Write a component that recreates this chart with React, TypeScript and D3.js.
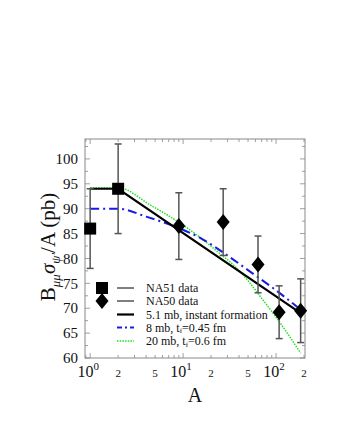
import React from "react";
import * as d3 from "d3";

const na51A = [1, 2];
const na51Val = [86, 94];
const na51Err = [8, 9];

const na50A = [9, 27, 64, 108, 184];
const na50Val = [86.5, 87.3, 78.8, 69.2, 69.5];
const na50Err = [6.7, 6.7, 5.7, 5.3, 6.4];

const blackA = [1, 2, 184];
const blackVal = [94, 94, 69];

const blueA = [1, 2, 4, 9, 15.4, 30, 53, 100, 184];
const blueVal = [90, 90, 88.4, 86.1, 84.1, 80.6, 77.3, 73.6, 69.7];

const greenA = [1, 2, 4.47, 10, 15.8, 25.1, 36.7, 50.1, 66.1, 100, 184];
const greenVal = [94.2, 94.2, 90.7, 86.7, 84.0, 80.9, 78.3, 75.5, 72.6, 68.2, 61.0];

const yTicks = [60, 65, 70, 75, 80, 85, 90, 95, 100];
const xMajor = [1, 10, 100];
const xMinorLabeled = [2, 5, 20, 50, 200];

const legendItems = ["NA51 data", "NA50 data", "5.1 mb, instant formation", "8 mb, t_f=0.45 fm", "20 mb, t_f=0.6 fm"];

export default function App() {
  const W = 337, H = 436;
  const left = 85, right = 305, top = 139, bottom = 358;
  const x = d3.scaleLog().domain([0.88, 205]).range([left, right]);
  const y = d3.scaleLinear().domain([60, 104]).range([bottom, top]);
  const font = "Liberation Serif, Times New Roman, DejaVu Serif, serif";
  const ts = { fontFamily: font } as React.CSSProperties;
  const frame = "#888";

  const line = (A: number[], V: number[], curve = d3.curveLinear) =>
    d3.line<number>().x((_, i) => x(A[i])).y((v) => y(v)).curve(curve)(V) || "";

  const allMinor: number[] = [];
  for (let dec = 0.1; dec <= 100; dec *= 10) {
    for (let k = 1; k <= 9; k++) {
      const v = Math.round(dec * k * 1000) / 1000;
      if (v >= 0.88 && v <= 205) allMinor.push(v);
    }
  }
  const yMinor = d3.range(60, 104.01, 2.5);

  const sq = 12;
  const diamond = (cx: number, cy: number) =>
    `M${cx},${cy - 8} L${cx + 6.5},${cy} L${cx},${cy + 8} L${cx - 6.5},${cy} Z`;

  const errBar = (A: number, v: number, e: number, key: string) => (
    <g key={key} stroke="#555" strokeWidth={1.5}>
      <line x1={x(A)} x2={x(A)} y1={y(v - e)} y2={y(v + e)} />
      <line x1={x(A) - 3.5} x2={x(A) + 3.5} y1={y(v - e)} y2={y(v - e)} />
      <line x1={x(A) - 3.5} x2={x(A) + 3.5} y1={y(v + e)} y2={y(v + e)} />
    </g>
  );

  const legX = 102, legLine0 = 117, legLine1 = 134, legText = 146;
  const legY = [288, 301, 314.5, 327.5, 341];

  return (
    <svg width={W} height={H} style={{ position: "absolute", left: 0, top: 0, fontFamily: font }}>
      <rect width={W} height={H} fill="white" />
      {allMinor.map((v, i) => {
        const major = xMajor.includes(v);
        const len = major ? 5 : 3;
        return (
          <g key={"xt" + i} stroke={frame} strokeWidth={0.8}>
            <line x1={x(v)} x2={x(v)} y1={bottom} y2={bottom - len} />
            <line x1={x(v)} x2={x(v)} y1={top} y2={top + len} />
          </g>
        );
      })}
      {yMinor.map((v, i) => {
        const major = v % 5 === 0;
        const len = major ? 5 : 3;
        return (
          <g key={"yt" + i} stroke={frame} strokeWidth={0.8}>
            <line x1={left} x2={left + len} y1={y(v)} y2={y(v)} />
            <line x1={right} x2={right - len} y1={y(v)} y2={y(v)} />
          </g>
        );
      })}
      <rect x={left} y={top} width={right - left} height={bottom - top} fill="none" stroke={frame} strokeWidth={1} />

      {yTicks.map((v) => (
        <text key={"yl" + v} x={78} y={y(v)} dy="0.35em" textAnchor="end" fontSize={15} fill="#111" style={ts}>
          {v}
        </text>
      ))}
      {xMajor.map((v, i) => (
        <text key={"xm" + v} x={x(v) - 2} y={377} textAnchor="middle" fontSize={16} fill="#111" style={ts}>
          10
          <tspan fontSize={11} dy={-7}>{i}</tspan>
        </text>
      ))}
      {xMinorLabeled.map((v) => (
        <text key={"xn" + v} x={x(v)} y={377} textAnchor="middle" fontSize={11} fill="#111" style={ts}>
          {String(v)[0]}
        </text>
      ))}

      <text x={195} y={402} textAnchor="middle" fontSize={20} fill="#111" style={ts}>A</text>
      <text transform="translate(55,247) rotate(-90)" textAnchor="middle" fontSize={21} fill="#111" style={ts}>
        B<tspan fontSize={13} dy={5} fontStyle="italic">μμ</tspan>
        <tspan fontStyle="italic" dy={-5}>σ</tspan>
        <tspan fontSize={13} dy={5} fontStyle="italic">ψ'</tspan>
        <tspan dy={-5}>/A (pb)</tspan>
      </text>

      <path d={line(greenA, greenVal, d3.curveMonotoneX)} fill="none" stroke="#22e022" strokeWidth={1.5} strokeDasharray="1.5,1.2" />
      <path d={line(blueA, blueVal, d3.curveMonotoneX)} fill="none" stroke="#1a1ae6" strokeWidth={2} strokeDasharray="9,4,2,4" />
      <path d={line(blackA, blackVal)} fill="none" stroke="#000" strokeWidth={2.2} />

      {na51A.map((A, i) => errBar(A, na51Val[i], na51Err[i], "e51" + i))}
      {na50A.map((A, i) => errBar(A, na50Val[i], na50Err[i], "e50" + i))}

      {na51A.map((A, i) => (
        <rect key={"s" + i} x={x(A) - sq / 2} y={y(na51Val[i]) - sq / 2} width={sq} height={sq} fill="#000" />
      ))}
      {na50A.map((A, i) => (
        <path key={"d" + i} d={diamond(x(A), y(na50Val[i]))} fill="#000" />
      ))}

      <rect x={legX - 6} y={legY[0] - 6} width={12} height={12} fill="#000" />
      <path d={diamond(legX, legY[1])} fill="#000" />
      <line x1={legLine0} x2={legLine1} y1={legY[0]} y2={legY[0]} stroke="#000" strokeWidth={1} />
      <line x1={legLine0} x2={legLine1} y1={legY[1]} y2={legY[1]} stroke="#555" strokeWidth={1.5} />
      <line x1={legLine0} x2={legLine1} y1={legY[2]} y2={legY[2]} stroke="#000" strokeWidth={2.2} />
      <line x1={legLine0} x2={legLine1} y1={legY[3]} y2={legY[3]} stroke="#1a1ae6" strokeWidth={2} strokeDasharray="5,3,2,3" />
      <line x1={legLine0} x2={legLine1} y1={legY[4]} y2={legY[4]} stroke="#22e022" strokeWidth={1.5} strokeDasharray="1.5,1.2" />
      {legendItems.map((t, i) => {
        const parts = t.split("t_f");
        return (
          <text key={"lt" + i} x={legText} y={legY[i]} dy="0.35em" fontSize={12} fill="#111" style={ts}>
            {parts[0]}
            {parts.length > 1 && (
              <>
                t<tspan fontSize={7} dy={1.5}>f</tspan>
                <tspan dy={-1.5}>{parts[1]}</tspan>
              </>
            )}
          </text>
        );
      })}
    </svg>
  );
}
